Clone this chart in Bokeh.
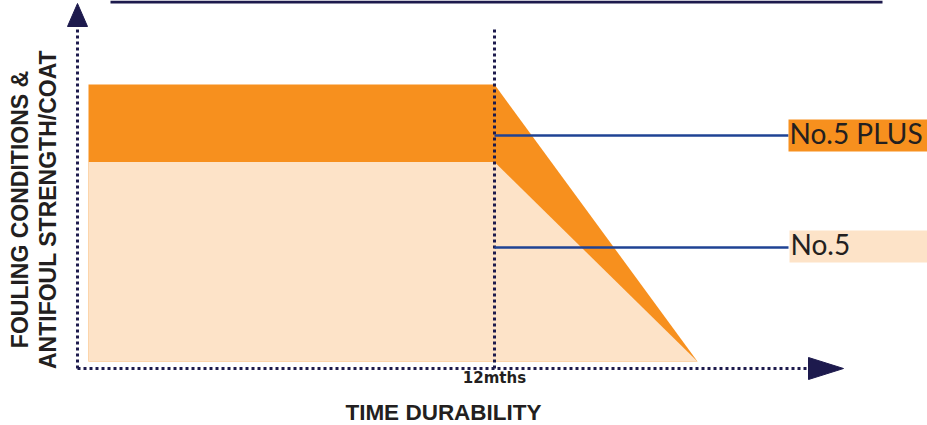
from bokeh.plotting import figure
from bokeh.models import Range1d
from bokeh.core.properties import value
from bokeh.embed import file_html
from bokeh.resources import INLINE

# ---- data ----
months = [0, 12, 18]
plus_strength = [100, 100, 0]
no5_strength = [72, 72, 0]
tick_month = 12
tick_label = "12mths"
series_names = ["No.5 PLUS", "No.5"]
x_title = "TIME DURABILITY"
y_title = ["FOULING CONDITIONS &", "ANTIFOUL STRENGTH/COAT"]

# ---- layout helpers (pixel -> data) ----
W, H = 927, 425
X0PX, XSC = 88.0, 406.0 / 12.0   # month 0 at px 88, 12 months at px 494
Y0PX, YSC = 361.0, 2.77          # strength 0 at py 361, 100 at py 84
BASE_K = 0.37                    # baseline correction (fraction of font size)


def fx(px):
    return (px - X0PX) / XSC


def fy(py):
    return (Y0PX - py) / YSC


DARK = "#F7901E"
LIGHT = "#FDE3C8"
NAVY = "#1D1A4D"
BLUE = "#1F4394"
TXT = "#231F20"

p = figure(width=W, height=H, x_range=Range1d(fx(0), fx(W)), y_range=Range1d(fy(H), fy(0)),
           output_backend="svg", toolbar_location=None, min_border=0,
           x_axis_location=None, y_axis_location=None)
p.grid.visible = False
p.outline_line_color = None
p.background_fill_color = "white"
p.border_fill_color = "white"

# areas
p.varea(x=months, y1=[0] * len(months), y2=plus_strength, fill_color=DARK)
p.varea(x=months, y1=[0] * len(months), y2=no5_strength, fill_color=LIGHT)

# top decorative line
p.line([fx(110), fx(882)], [fy(1.5), fy(1.5)], line_color=NAVY, line_width=3)

# axes (dotted) and arrows
DOT = dict(line_color=NAVY, line_width=3, line_dash="3 3")
p.line([fx(77), fx(77)], [fy(368), fy(27)], **DOT)
p.line([fx(77), fx(808)], [fy(368), fy(368)], **DOT)
p.line([tick_month, tick_month], [fy(368), fy(27)], **DOT)
p.patch([fx(77), fx(67), fx(87)], [fy(3), fy(26), fy(26)], fill_color=NAVY, line_color=NAVY)
p.patch([fx(843), fx(808), fx(808)], [fy(368), fy(357), fy(379)], fill_color=NAVY, line_color=NAVY)

# label connectors and boxes
p.line([tick_month, fx(788)], [fy(135), fy(135)], line_color=BLUE, line_width=2.5)
p.line([tick_month, fx(788)], [fy(247), fy(247)], line_color=BLUE, line_width=2.5)
p.quad(left=fx(788), right=fx(W), top=fy(119), bottom=fy(151), fill_color=DARK, line_color=None)
p.quad(left=fx(789), right=fx(W), top=fy(230), bottom=fy(262), fill_color=LIGHT, line_color=None)
fs_lab = 28
p.text(x=[fx(789), fx(790)], y=[fy(143 - BASE_K * fs_lab), fy(254 - BASE_K * fs_lab)], text=series_names,
       text_font=value("Lato"), text_font_size=f"{fs_lab}px", text_color=TXT,
       text_baseline="alphabetic", text_align="left")

# tick label
fs_tick = 15
p.text(x=[tick_month], y=[fy(383 - BASE_K * fs_tick)], text=[tick_label], text_font=value("DejaVu Sans"),
       text_font_style="bold", text_font_size=f"{fs_tick}px", text_color=TXT,
       text_align="center", text_baseline="alphabetic")

# axis titles
fs_xt = 22.5
p.text(x=[fx(443)], y=[fy(420 - BASE_K * fs_xt)], text=[x_title], text_font=value("Liberation Sans"),
       text_font_style="bold", text_font_size=f"{fs_xt}px", text_color=TXT,
       text_align="center", text_baseline="alphabetic")
fs_yt = 23
p.text(x=[fx(28 - BASE_K * fs_yt), fx(56 - BASE_K * fs_yt)], y=[fy(209), fy(209)], text=y_title, angle=1.5708,
       text_font=value("Liberation Sans"), text_font_style="bold", text_font_size=f"{fs_yt}px",
       text_color=TXT, text_align="center", text_baseline="alphabetic")

open("out.html", "w").write(file_html(p, INLINE))
